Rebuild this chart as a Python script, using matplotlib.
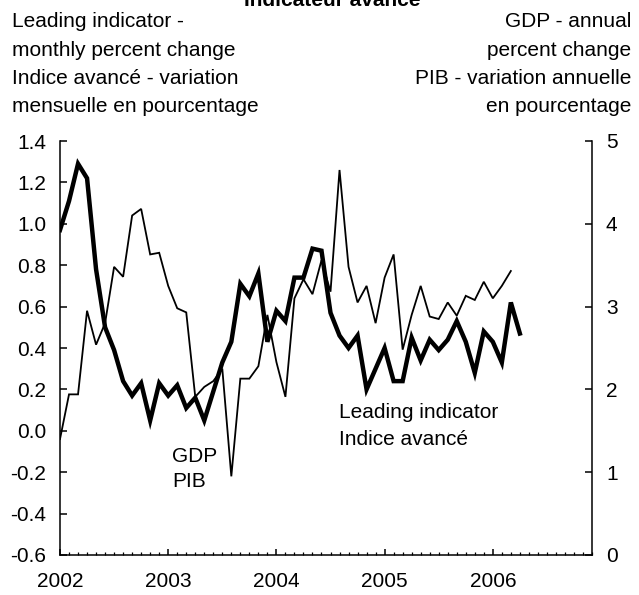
import numpy as np
import matplotlib
matplotlib.use("Agg")
import matplotlib.pyplot as plt
from matplotlib.ticker import MultipleLocator, FixedLocator

plt.rcParams['font.family'] = ['Liberation Sans', 'DejaVu Sans']
plt.rcParams['font.size'] = 15

# month index 0 = January 2002
years = [2002, 2003, 2004, 2005, 2006]

# Leading indicator - monthly percent change (left axis), Jan 2002 - Apr 2006
leading = [0.97, 1.11, 1.29, 1.22, 0.78, 0.50, 0.39, 0.24, 0.17, 0.23, 0.05, 0.23,
           0.17, 0.22, 0.11, 0.16, 0.05, 0.19, 0.33, 0.43, 0.71, 0.65, 0.76, 0.43,
           0.58, 0.53, 0.74, 0.74, 0.88, 0.87, 0.57, 0.46, 0.40, 0.46, 0.20, 0.30,
           0.40, 0.24, 0.24, 0.45, 0.34, 0.44, 0.39, 0.44, 0.53, 0.43, 0.28, 0.48,
           0.43, 0.33, 0.62, 0.47]

# GDP - annual percent change (right axis), Jan 2002 - Mar 2006
gdp = [1.40, 1.94, 1.94, 2.95, 2.54, 2.80, 3.48, 3.36, 4.10, 4.18, 3.63, 3.65,
       3.25, 2.98, 2.93, 1.91, 2.03, 2.10, 2.25, 0.95, 2.13, 2.13, 2.28, 2.90,
       2.33, 1.91, 3.10, 3.33, 3.15, 3.56, 3.18, 4.65, 3.48, 3.05, 3.25, 2.80,
       3.35, 3.63, 2.48, 2.90, 3.25, 2.88, 2.85, 3.05, 2.89, 3.13, 3.08, 3.30,
       3.10, 3.25, 3.43]

left_ticks = [1.4, 1.2, 1.0, 0.8, 0.6, 0.4, 0.2, 0.0, -0.2, -0.4, -0.6]
right_ticks = [0, 1, 2, 3, 4, 5]

fig = plt.figure(figsize=(6.39, 5.95), dpi=100)
ax = fig.add_axes([60 / 639, 1 - 555 / 595, 532 / 639, 414 / 595])
ax2 = ax.twinx()

ax.plot(np.arange(len(leading)), leading, color='black', lw=3.2,
        solid_joinstyle='miter', zorder=3)
ax2.plot(np.arange(len(gdp)), gdp, color='black', lw=1.3,
         solid_joinstyle='miter', zorder=2)

ax.set_xlim(0, 59)
ax.set_ylim(-0.6, 1.4)
ax2.set_ylim(0, 5)

ax.set_yticks(left_ticks)
ax.set_yticklabels([f"{v:.1f}" for v in left_ticks])
ax2.set_yticks(right_ticks)

ax.xaxis.set_major_locator(FixedLocator([12 * i for i in range(len(years))]))
ax.set_xticklabels([str(y) for y in years])
ax.xaxis.set_minor_locator(MultipleLocator(1))

for a in (ax, ax2):
    a.spines['top'].set_visible(False)
    for s in ('left', 'right', 'bottom'):
        a.spines[s].set_linewidth(1.1)
ax.spines['right'].set_visible(False)
ax2.spines['left'].set_visible(False)
ax2.spines['bottom'].set_visible(False)

ax.tick_params(axis='y', direction='in', length=5, width=1.1, pad=10)
ax2.tick_params(axis='y', direction='in', length=5, width=1.1, pad=10)
ax.tick_params(axis='x', which='major', direction='in', length=4.5, width=1.1, pad=12)
ax.tick_params(axis='x', which='minor', direction='in', length=2.2, width=0.9)

# headers
fig.text(332 / 639, 1 - 6 / 595, "Indicateur avancé", ha='center', va='baseline',
         fontweight='bold')
left_head = ["Leading indicator -", "monthly percent change",
             "Indice avancé - variation", "mensuelle en pourcentage"]
right_head = ["GDP - annual", "percent change",
              "PIB - variation annuelle", "en pourcentage"]
for i, (lt, rt) in enumerate(zip(left_head, right_head)):
    yb = 1 - (27 + 28.5 * i) / 595
    fig.text(12 / 639, yb, lt, ha='left', va='baseline')
    fig.text(631 / 639, yb, rt, ha='right', va='baseline')

# series labels
ax.text(30.9, 0.062, "Leading indicator", ha='left', va='baseline')
ax.text(30.9, -0.069, "Indice avancé", ha='left', va='baseline')
ax.text(12.4, -0.151, "GDP", ha='left', va='baseline')
ax.text(12.4, -0.271, "PIB", ha='left', va='baseline')

fig.savefig("out.png", dpi=100)
